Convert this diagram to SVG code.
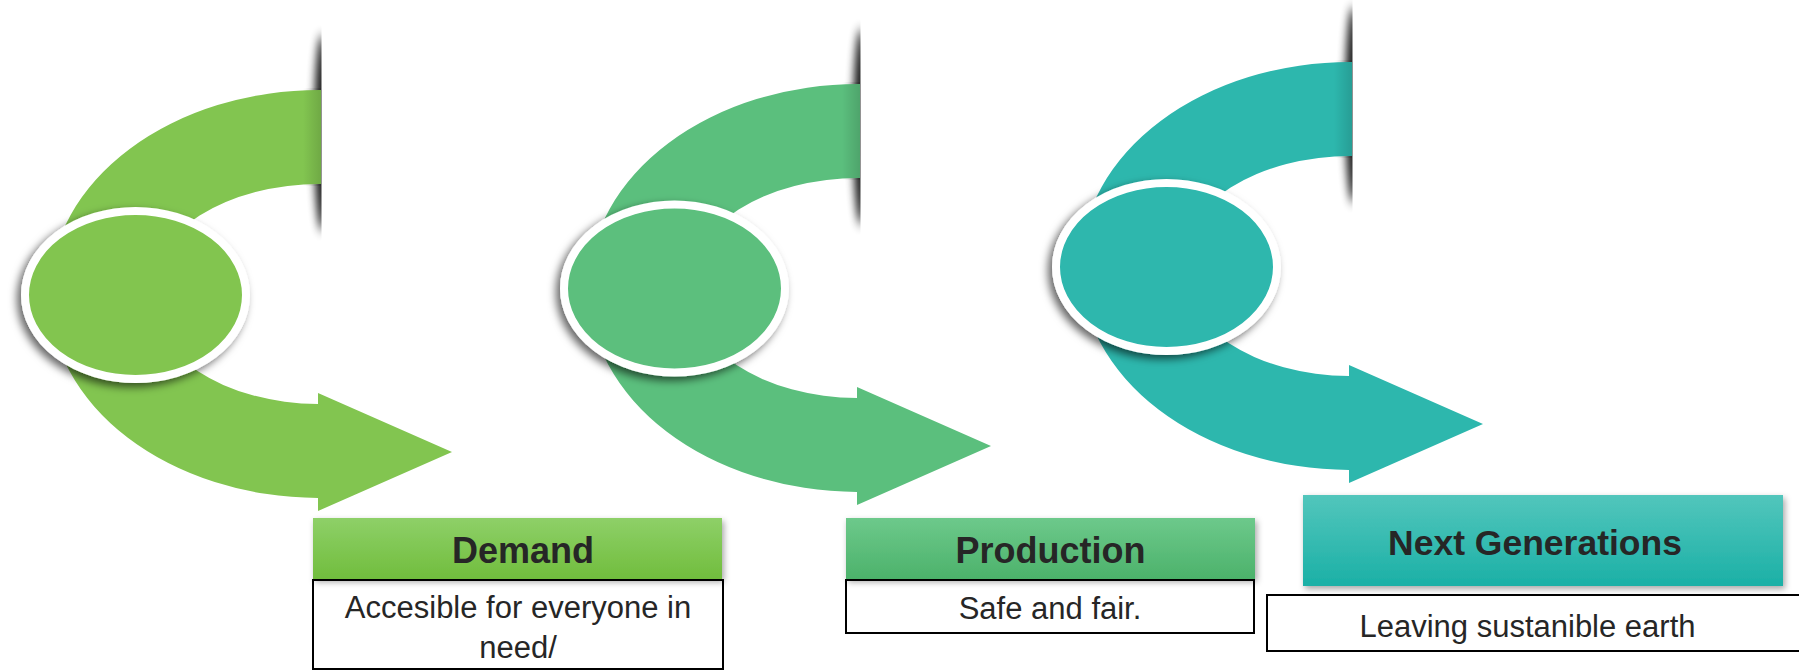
<svg xmlns="http://www.w3.org/2000/svg" width="1799" height="671" viewBox="0 0 1799 671">
  <style>
    .head { font-family: "Liberation Sans", Arial, sans-serif; font-weight: bold; font-size: 36px; fill: #262626; text-anchor: middle; }
    .head-wide { font-size: 35.5px; }
    .desc { font-family: "Liberation Sans", Arial, sans-serif; font-size: 31px; fill: #262626; text-anchor: middle; }
    .box { fill: #ffffff; stroke: #000000; stroke-width: 2; }
    .ring { stroke: #ffffff; stroke-width: 8; filter: url(#ringShadow); }
    .streak { fill: #000000; opacity: 0.9; filter: url(#streakBlur); }
    .edge { fill: url(#edgeShade); }
  </style>
  <defs>
    <!-- curved "C" arrow, drawn in the local frame of the first stage -->
    <path id="curl" d="M321,90 A270,204 0 0 0 318,498 L318,511 L452,452 L318,393 L318,404 A171,110 0 0 1 321,184 Z"/>
    <clipPath id="cutLeft" clipPathUnits="userSpaceOnUse">
      <rect x="200" y="0" width="121.5" height="260"/>
    </clipPath>
    <filter id="streakBlur" x="-300%" y="-20%" width="700%" height="140%">
      <feGaussianBlur stdDeviation="4 6"/>
    </filter>
    <filter id="ringShadow" x="-20%" y="-20%" width="140%" height="140%">
      <feDropShadow dx="-4" dy="4" stdDeviation="4" flood-color="#000" flood-opacity="0.6"/>
    </filter>
    <filter id="boxShadow" x="-10%" y="-20%" width="120%" height="150%">
      <feDropShadow dx="2" dy="3" stdDeviation="3" flood-color="#000" flood-opacity="0.35"/>
    </filter>
    <linearGradient id="edgeShade" x1="0" y1="0" x2="1" y2="0">
      <stop offset="0" stop-color="#000" stop-opacity="0"/>
      <stop offset="1" stop-color="#000" stop-opacity="0.14"/>
    </linearGradient>
    <linearGradient id="gDemand" x1="0" y1="0" x2="0" y2="1">
      <stop offset="0" stop-color="#8ed068"/>
      <stop offset="1" stop-color="#71bd3d"/>
    </linearGradient>
    <linearGradient id="gProduction" x1="0" y1="0" x2="0" y2="1">
      <stop offset="0" stop-color="#6dc98b"/>
      <stop offset="1" stop-color="#4cb26b"/>
    </linearGradient>
    <linearGradient id="gNext" x1="0" y1="0" x2="0" y2="1">
      <stop offset="0" stop-color="#52c6bc"/>
      <stop offset="1" stop-color="#1bb0a6"/>
    </linearGradient>
  </defs>

  <rect width="1799" height="671" fill="#ffffff"/>

  <!-- stage 1: Demand -->
  <g id="stage-demand">
    <g transform="translate(0,0)">
      <ellipse class="streak" cx="322" cy="133" rx="8" ry="98" clip-path="url(#cutLeft)"/>
      <use href="#curl" fill="#82c550"/>
      <rect class="edge" x="303" y="88" width="18" height="98"/>
      <ellipse class="ring" cx="135.5" cy="295" rx="110.5" ry="84" fill="#82c550"/>
    </g>
    <rect class="box" x="313" y="580" width="410" height="89"/>
    <rect x="313" y="518" width="409" height="61" fill="url(#gDemand)" filter="url(#boxShadow)"/>
    <text class="head" x="523" y="563">Demand</text>
    <text class="desc" x="518" y="618">Accesible for everyone in</text>
    <text class="desc" x="518" y="658">need/</text>
  </g>

  <!-- stage 2: Production -->
  <g id="stage-production">
    <g transform="translate(539,-6)">
      <ellipse class="streak" cx="322" cy="133" rx="8" ry="98" clip-path="url(#cutLeft)"/>
      <use href="#curl" fill="#5bbf7d"/>
      <rect class="edge" x="303" y="88" width="18" height="98"/>
      <ellipse class="ring" cx="135.5" cy="294.5" rx="110.5" ry="84" fill="#5bbf7d"/>
    </g>
    <rect class="box" x="846" y="580" width="408" height="53"/>
    <rect x="846" y="518" width="409" height="61" fill="url(#gProduction)" filter="url(#boxShadow)"/>
    <text class="head" x="1050.5" y="563">Production</text>
    <text class="desc" x="1050" y="619">Safe and fair.</text>
  </g>

  <!-- stage 3: Next Generations -->
  <g id="stage-next">
    <g transform="translate(1031,-28)">
      <ellipse class="streak" cx="322" cy="133" rx="8" ry="98" clip-path="url(#cutLeft)"/>
      <use href="#curl" fill="#2db7ad"/>
      <rect class="edge" x="303" y="88" width="18" height="98"/>
      <ellipse class="ring" cx="135.5" cy="295" rx="110.5" ry="84" fill="#2db7ad"/>
    </g>
    <rect class="box" x="1267" y="595" width="560" height="56"/>
    <rect x="1303" y="495" width="480" height="91" fill="url(#gNext)" filter="url(#boxShadow)"/>
    <text class="head head-wide" x="1535" y="555">Next Generations</text>
    <text class="desc" x="1527.5" y="637">Leaving sustanible earth</text>
  </g>

  <!-- the stages are linked only by their own curved arrows -->
  <g id="connectors"/>
</svg>
